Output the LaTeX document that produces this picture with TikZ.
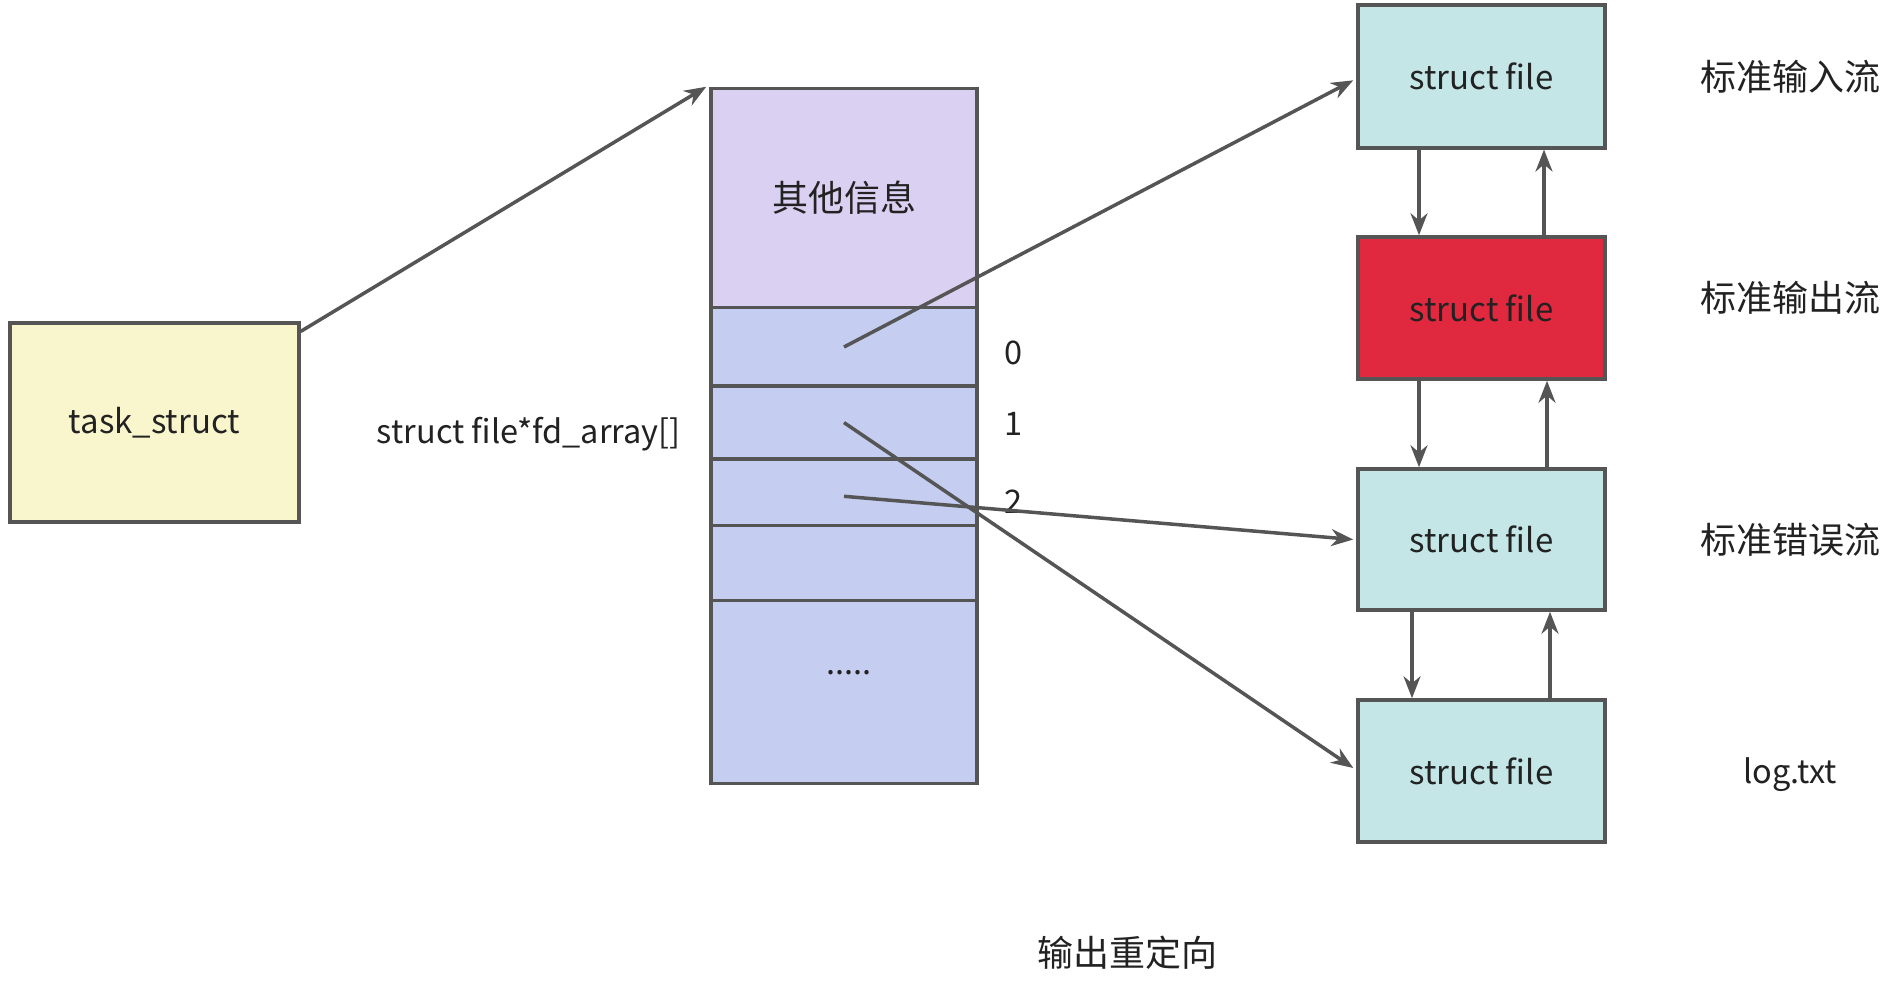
\documentclass[tikz,border=0pt]{standalone}
\usepackage{fontspec}
\setmainfont{Noto Sans CJK SC}
\usetikzlibrary{arrows.meta,calc}
\definecolor{lc}{HTML}{555555}
\definecolor{tc}{HTML}{222222}
\definecolor{yfill}{HTML}{F9F5CC}
\definecolor{pfill}{HTML}{DAD0F1}
\definecolor{bfill}{HTML}{C5CDF0}
\definecolor{tfill}{HTML}{C4E6E6}
\definecolor{rfill}{HTML}{E0293F}
\tikzset{
  box/.style={draw=lc,line width=3.5pt,rectangle,inner sep=0pt,text=tc,font=\fontsize{33}{38}\selectfont},
  lbl/.style={text=tc,inner sep=0pt,font=\fontsize{32.5}{38}\selectfont},
  cjk/.style={text=tc,inner sep=0pt,font=\fontsize{36}{42}\selectfont},
  arr/.style={draw=lc,line width=3.5pt,-{Stealth[length=22pt,width=17pt]}},
}
\begin{document}
\begin{tikzpicture}[x=1pt,y=-1pt]
\fill[white] (0,0) rectangle (1899,996);
\useasboundingbox (0,0) rectangle (1899,996);
% task_struct
\node[box,fill=yfill,minimum width=289pt,minimum height=199pt] (task) at (154.4,422.7) {\raisebox{-3pt}{task\_struct}};
% fd array
\node[box,fill=pfill,minimum width=266pt,minimum height=219pt] (other) at (844,198) {\fontsize{36}{42}\selectfont\raisebox{-2pt}{其他信息}};
\node[box,fill=bfill,minimum width=266pt,minimum height=79pt] (fd0) at (844,347) {};
\node[box,fill=bfill,minimum width=266pt,minimum height=73pt] (fd1) at (844,422.6) {};
\node[box,fill=bfill,minimum width=266pt,minimum height=67pt] (fd2) at (844,492.3) {};
\node[box,fill=bfill,minimum width=266pt,minimum height=75pt] (fd3) at (844,563.2) {};
\node[box,fill=bfill,minimum width=266pt,minimum height=183pt] (fdm) at (844,692.2) {};
\node[lbl] (dots) at (849,673) {.....};
\node[lbl,anchor=east] (fdlabel) at (681,434) {struct file*fd\_array[]};
\node[lbl] (n0) at (1014,353) {0};
\node[lbl] (n1) at (1014,424) {1};
\node[lbl] (n2) at (1014,502) {2};
% struct file boxes
\node[box,fill=tfill,minimum width=247pt,minimum height=143pt] (f0) at (1481.5,76.3) {struct file};
\node[box,fill=rfill,minimum width=247pt,minimum height=142pt] (f1) at (1481.5,308) {struct file};
\node[box,fill=tfill,minimum width=247pt,minimum height=141pt] (f2) at (1481.5,539.5) {struct file};
\node[box,fill=tfill,minimum width=247pt,minimum height=142pt] (f3) at (1481.5,771) {struct file};
% right labels
\node[cjk] (l0) at (1790,77) {标准输入流};
\node[cjk] (l1) at (1790,298) {标准输出流};
\node[cjk] (l2) at (1790,540) {标准错误流};
\node[lbl] (l3) at (1790,775) {log.txt};
\node[cjk] (title) at (1127.5,953) {输出重定向};
% arrows
\draw[arr] ($(task.north east)+(0,10)$) -- ($(other.north west)+(-3,0)$);
\draw[arr] (fd0.center) -- ($(f0.west)+(-3,4)$);
\draw[arr] (fd1.center) -- ($(f3.west)+(-3,-3)$);
\draw[arr] ($(fd2.center)+(0,4)$) -- ($(f2.west)+(-3,0)$);
% vertical arrows
\coordinate (a) at (1419,0);
\coordinate (b) at (1544,0);
\coordinate (c) at (1547,0);
\coordinate (d) at (1412,0);
\coordinate (e) at (1550,0);
\draw[arr] (f0.south -| a) -- (f1.north -| a);
\draw[arr] (f1.north -| b) -- (f0.south -| b);
\draw[arr] (f1.south -| a) -- (f2.north -| a);
\draw[arr] (f2.north -| c) -- (f1.south -| c);
\draw[arr] (f2.south -| d) -- (f3.north -| d);
\draw[arr] (f3.north -| e) -- (f2.south -| e);
\end{tikzpicture}
\end{document}
